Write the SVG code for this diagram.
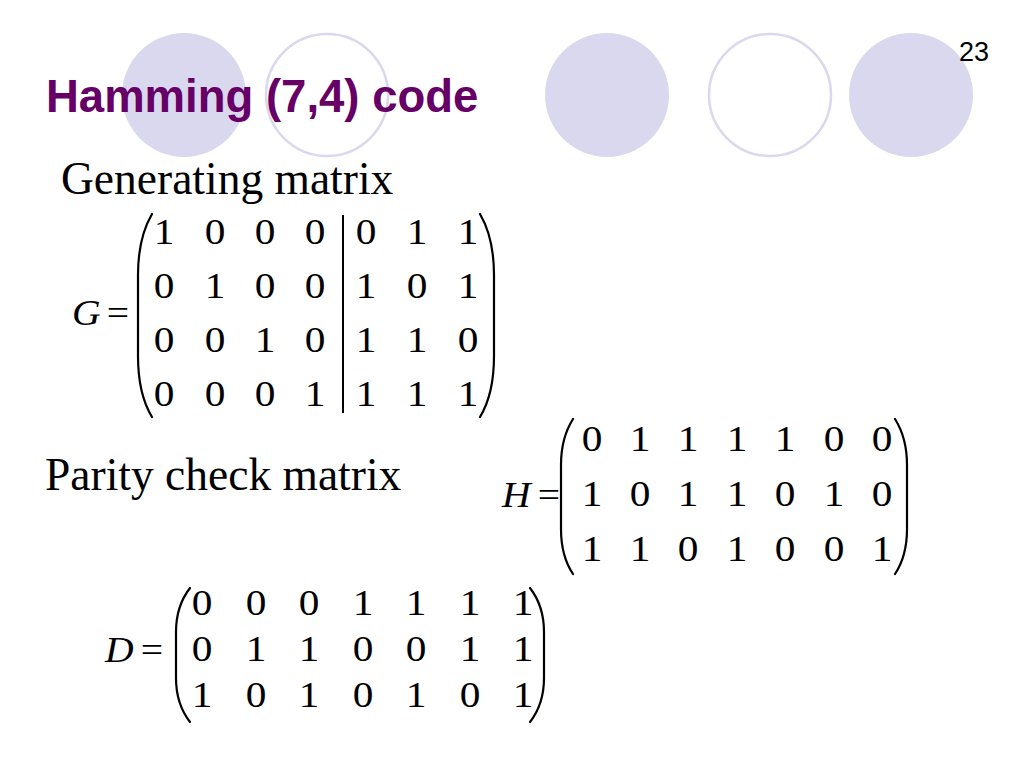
<svg xmlns="http://www.w3.org/2000/svg" width="1024" height="768" viewBox="0 0 1024 768">
<style>
.bg{fill:#ffffff}
.cf{fill:#D9D8EE;stroke:none}
.co{fill:none;stroke:#D9D8EE;stroke-width:2.5}
.title{font-family:"Liberation Sans",Arial,sans-serif;font-weight:bold;font-size:45.5px;fill:#660066}
.pg{font-family:"Liberation Sans",Arial,sans-serif;font-size:27px;fill:#000}
.lbl{font-family:"Liberation Serif","Times New Roman",serif;font-size:45.5px;fill:#000}
.m{font-family:"Liberation Serif","Times New Roman",serif;font-size:35px;fill:#000;text-anchor:middle}
.v{font-family:"Liberation Serif","Times New Roman",serif;font-size:36px;font-style:italic;fill:#000}
.e{font-family:"Liberation Serif","Times New Roman",serif;font-size:36px;fill:#000;text-anchor:middle}
.p{fill:none;stroke:#000;stroke-width:2.2;stroke-linecap:round}
</style>
<rect class="bg" x="0" y="0" width="1024" height="768"/>
<g id="decor">
<circle class="cf" cx="184" cy="95" r="62"/>
<circle class="co" cx="327" cy="95" r="61"/>
<circle class="cf" cx="607" cy="95" r="62"/>
<circle class="co" cx="770" cy="95" r="61"/>
<circle class="cf" cx="911" cy="95" r="62"/>
</g>
<g id="title"><text class="title" x="46" y="112">Hamming (7,4) code</text></g>
<g id="page"><text class="pg" x="959" y="61">23</text></g>
<g id="gen-label"><text class="lbl" x="61" y="194">Generating matrix</text></g>
<g id="parity-label"><text class="lbl" x="45" y="490">Parity check matrix</text></g>

<g id="matrix-G">
<text class="v" transform="translate(72,325) scale(1.1,1)">G</text>
<text class="e" transform="translate(118,325) scale(1.1,1)">=</text>
<path class="p" d="M152,214 Q138,238 138,275 L138,356 Q138,394 152,417"/>
<path class="p" d="M480,214 Q494,238 494,275 L494,356 Q494,394 480,417"/>
<line x1="343" y1="215" x2="343" y2="413" stroke="#000" stroke-width="2"/>
<text class="m" transform="translate(164,244) scale(1.18,1)">1</text>
<text class="m" transform="translate(215,244) scale(1.18,1)">0</text>
<text class="m" transform="translate(265,244) scale(1.18,1)">0</text>
<text class="m" transform="translate(315,244) scale(1.18,1)">0</text>
<text class="m" transform="translate(366,244) scale(1.18,1)">0</text>
<text class="m" transform="translate(417,244) scale(1.18,1)">1</text>
<text class="m" transform="translate(468,244) scale(1.18,1)">1</text>
<text class="m" transform="translate(164,298) scale(1.18,1)">0</text>
<text class="m" transform="translate(215,298) scale(1.18,1)">1</text>
<text class="m" transform="translate(265,298) scale(1.18,1)">0</text>
<text class="m" transform="translate(315,298) scale(1.18,1)">0</text>
<text class="m" transform="translate(366,298) scale(1.18,1)">1</text>
<text class="m" transform="translate(417,298) scale(1.18,1)">0</text>
<text class="m" transform="translate(468,298) scale(1.18,1)">1</text>
<text class="m" transform="translate(164,352) scale(1.18,1)">0</text>
<text class="m" transform="translate(215,352) scale(1.18,1)">0</text>
<text class="m" transform="translate(265,352) scale(1.18,1)">1</text>
<text class="m" transform="translate(315,352) scale(1.18,1)">0</text>
<text class="m" transform="translate(366,352) scale(1.18,1)">1</text>
<text class="m" transform="translate(417,352) scale(1.18,1)">1</text>
<text class="m" transform="translate(468,352) scale(1.18,1)">0</text>
<text class="m" transform="translate(164,406) scale(1.18,1)">0</text>
<text class="m" transform="translate(215,406) scale(1.18,1)">0</text>
<text class="m" transform="translate(265,406) scale(1.18,1)">0</text>
<text class="m" transform="translate(315,406) scale(1.18,1)">1</text>
<text class="m" transform="translate(366,406) scale(1.18,1)">1</text>
<text class="m" transform="translate(417,406) scale(1.18,1)">1</text>
<text class="m" transform="translate(468,406) scale(1.18,1)">1</text>
</g>

<g id="matrix-H">
<text class="v" transform="translate(502,507) scale(1.1,1)">H</text>
<text class="e" transform="translate(549,507) scale(1.1,1)">=</text>
<path class="p" d="M573,419 Q561,438 561,465 L561,529 Q561,556 573,574"/>
<path class="p" d="M895,419 Q907,438 907,465 L907,529 Q907,556 895,574"/>
<text class="m" transform="translate(592,451) scale(1.18,1)">0</text>
<text class="m" transform="translate(640,451) scale(1.18,1)">1</text>
<text class="m" transform="translate(688,451) scale(1.18,1)">1</text>
<text class="m" transform="translate(737,451) scale(1.18,1)">1</text>
<text class="m" transform="translate(785,451) scale(1.18,1)">1</text>
<text class="m" transform="translate(834,451) scale(1.18,1)">0</text>
<text class="m" transform="translate(882,451) scale(1.18,1)">0</text>
<text class="m" transform="translate(592,506) scale(1.18,1)">1</text>
<text class="m" transform="translate(640,506) scale(1.18,1)">0</text>
<text class="m" transform="translate(688,506) scale(1.18,1)">1</text>
<text class="m" transform="translate(737,506) scale(1.18,1)">1</text>
<text class="m" transform="translate(785,506) scale(1.18,1)">0</text>
<text class="m" transform="translate(834,506) scale(1.18,1)">1</text>
<text class="m" transform="translate(882,506) scale(1.18,1)">0</text>
<text class="m" transform="translate(592,561) scale(1.18,1)">1</text>
<text class="m" transform="translate(640,561) scale(1.18,1)">1</text>
<text class="m" transform="translate(688,561) scale(1.18,1)">0</text>
<text class="m" transform="translate(737,561) scale(1.18,1)">1</text>
<text class="m" transform="translate(785,561) scale(1.18,1)">0</text>
<text class="m" transform="translate(834,561) scale(1.18,1)">0</text>
<text class="m" transform="translate(882,561) scale(1.18,1)">1</text>
</g>

<g id="matrix-D">
<text class="v" transform="translate(105,662) scale(1.1,1)">D</text>
<text class="e" transform="translate(152,662) scale(1.1,1)">=</text>
<path class="p" d="M190,588 Q176,606 176,632 L176,678 Q176,704 190,722"/>
<path class="p" d="M530,588 Q544,606 544,632 L544,678 Q544,704 530,722"/>
<text class="m" transform="translate(202,615) scale(1.18,1)">0</text>
<text class="m" transform="translate(256,615) scale(1.18,1)">0</text>
<text class="m" transform="translate(309,615) scale(1.18,1)">0</text>
<text class="m" transform="translate(363,615) scale(1.18,1)">1</text>
<text class="m" transform="translate(416,615) scale(1.18,1)">1</text>
<text class="m" transform="translate(470,615) scale(1.18,1)">1</text>
<text class="m" transform="translate(523,615) scale(1.18,1)">1</text>
<text class="m" transform="translate(202,661) scale(1.18,1)">0</text>
<text class="m" transform="translate(256,661) scale(1.18,1)">1</text>
<text class="m" transform="translate(309,661) scale(1.18,1)">1</text>
<text class="m" transform="translate(363,661) scale(1.18,1)">0</text>
<text class="m" transform="translate(416,661) scale(1.18,1)">0</text>
<text class="m" transform="translate(470,661) scale(1.18,1)">1</text>
<text class="m" transform="translate(523,661) scale(1.18,1)">1</text>
<text class="m" transform="translate(202,707) scale(1.18,1)">1</text>
<text class="m" transform="translate(256,707) scale(1.18,1)">0</text>
<text class="m" transform="translate(309,707) scale(1.18,1)">1</text>
<text class="m" transform="translate(363,707) scale(1.18,1)">0</text>
<text class="m" transform="translate(416,707) scale(1.18,1)">1</text>
<text class="m" transform="translate(470,707) scale(1.18,1)">0</text>
<text class="m" transform="translate(523,707) scale(1.18,1)">1</text>
</g>
<g id="connectors"></g>
</svg>
